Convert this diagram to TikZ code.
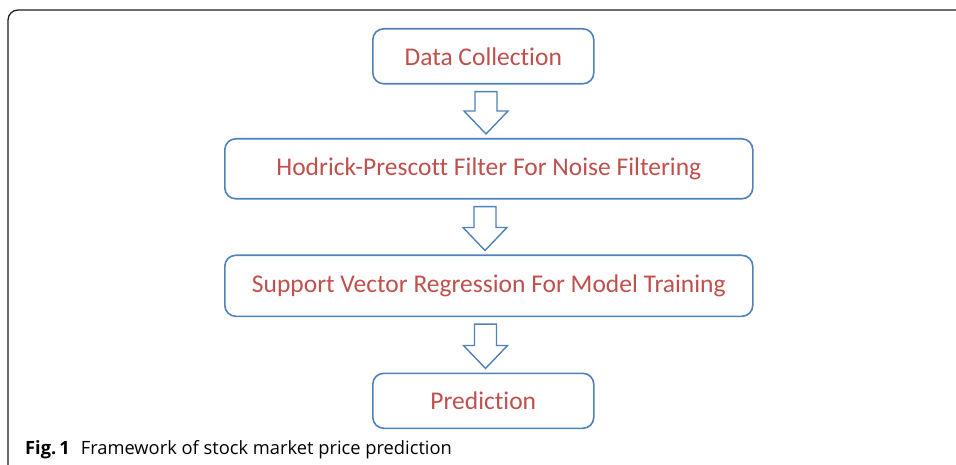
\documentclass[tikz,border=0pt]{standalone}
\usepackage{fontspec}
\setmainfont{Carlito}[Ligatures=NoCommon]
\newfontfamily\capfont{Open Sans}
\usetikzlibrary{calc}
\definecolor{boxblue}{RGB}{79,129,189}
\definecolor{textred}{RGB}{192,80,77}
\definecolor{framegray}{RGB}{30,30,30}
\tikzset{
  stepbox/.style={draw=boxblue, line width=1.6pt, rounded corners=11pt, fill=white,
    text=textred, font=\fontsize{25.5}{28}\selectfont, inner sep=0pt, anchor=north west},
  downarrow/.style={draw=boxblue, line width=1.4pt, fill=white, line join=miter},
}
\begin{document}
\begin{tikzpicture}[x=1pt, y=-1pt]
  \useasboundingbox (0,0) rectangle (956,465);
  % figure frame, open to the right and bottom
  \draw[framegray, line width=1.3pt] (8,470) -- (8,20) arc[start angle=180, end angle=270, radius=10] -- (960,10);

  % process steps
  \node[stepbox, minimum width=221pt, minimum height=55pt] (collect) at (372,28) {Data Collection};
  \node[stepbox, minimum width=528pt, minimum height=60pt] (filter) at (224,138) {Hodrick-Prescott Filter For Noise Filtering};
  \node[stepbox, minimum width=528pt, minimum height=61pt] (svr) at (224,254.5) {Support Vector Regression For Model Training};
  \node[stepbox, minimum width=221pt, minimum height=55pt] (predict) at (372,372.5) {Prediction};

  % block arrows between the steps
  \foreach \a/\b/\cx in {collect/filter/486, filter/svr/485, svr/predict/485.5} {
    \coordinate (cx) at (\cx,0);
    \coordinate (top) at ($(\a.south -| cx) + (0,7)$);
    \coordinate (tip) at ($(\b.north -| cx) + (0,-4)$);
    \draw[downarrow]
      ($(top)+(-11,0)$) -- ($(top)+(11,0)$) -- ($(tip)+(11,-23)$) -- ($(tip)+(22,-23)$)
      -- (tip) -- ($(tip)+(-22,-23)$) -- ($(tip)+(-11,-23)$) -- cycle;
  }

  % caption
  \node[anchor=west, inner sep=0pt, font=\capfont\fontsize{18.3}{22}\selectfont] (cap) at (25,450)
    {\textbf{Fig.\,1}\hspace{0.6em}Framework of stock market price prediction};
\end{tikzpicture}
\end{document}
